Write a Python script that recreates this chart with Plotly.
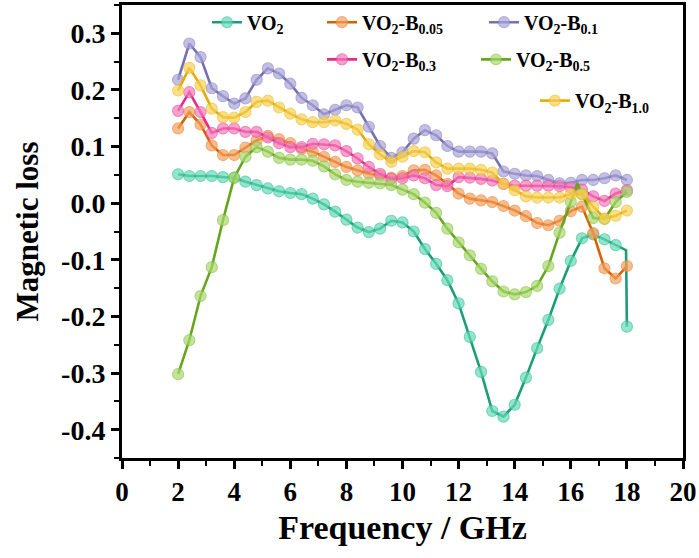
import plotly.graph_objects as go

# ---------------- data ----------------
freq = [2.0, 2.4, 2.8, 3.2, 3.6, 4.0, 4.4, 4.8, 5.2, 5.6,
        6.0, 6.4, 6.8, 7.2, 7.6, 8.0, 8.4, 8.8, 9.2, 9.6,
        10.0, 10.4, 10.8, 11.2, 11.6, 12.0, 12.4, 12.8, 13.2, 13.6,
        14.0, 14.4, 14.8, 15.2, 15.6, 16.0, 16.4, 16.8, 17.2, 17.6, 18.0]

vo2 = [0.051, 0.048, 0.048, 0.048, 0.046, 0.045, 0.038, 0.032, 0.026, 0.021,
       0.018, 0.016, 0.008, -0.002, -0.015, -0.029, -0.043, -0.051, -0.045, -0.031,
       -0.034, -0.050, -0.081, -0.107, -0.136, -0.177, -0.236, -0.298, -0.367, -0.377,
       -0.356, -0.308, -0.256, -0.206, -0.151, -0.102, -0.062, -0.055, -0.064, -0.074, -0.218]
# unmarked point just before the final drop of VO2
vo2_extra_x = [17.97]
vo2_extra_y = [-0.083]

vo2_b005 = [0.132, 0.161, 0.139, 0.102, 0.085, 0.085, 0.098, 0.111, 0.119, 0.113,
            0.106, 0.096, 0.091, 0.082, 0.073, 0.064, 0.058, 0.052, 0.049, 0.045,
            0.048, 0.058, 0.059, 0.049, 0.034, 0.017, 0.008, 0.005, 0.002, -0.005,
            -0.013, -0.023, -0.035, -0.039, -0.031, -0.014, -0.006, -0.053, -0.115, -0.133, -0.111]

vo2_b01 = [0.218, 0.282, 0.258, 0.203, 0.189, 0.176, 0.185, 0.218, 0.238, 0.229,
           0.211, 0.186, 0.173, 0.157, 0.165, 0.173, 0.169, 0.135, 0.101, 0.080,
           0.090, 0.114, 0.129, 0.120, 0.101, 0.091, 0.091, 0.091, 0.088, 0.056,
           0.052, 0.049, 0.048, 0.041, 0.035, 0.036, 0.041, 0.041, 0.044, 0.049, 0.041]

vo2_b03 = [0.163, 0.196, 0.161, 0.124, 0.132, 0.132, 0.126, 0.126, 0.116, 0.106,
           0.099, 0.099, 0.105, 0.104, 0.102, 0.092, 0.079, 0.064, 0.052, 0.043,
           0.044, 0.049, 0.044, 0.032, 0.030, 0.046, 0.045, 0.043, 0.040, 0.034,
           0.031, 0.031, 0.031, 0.031, 0.030, 0.028, 0.024, 0.012, 0.004, 0.017, 0.023]

vo2_b05 = [-0.302, -0.242, -0.164, -0.113, -0.030, 0.045, 0.082, 0.099, 0.091, 0.080,
           0.077, 0.077, 0.075, 0.065, 0.051, 0.041, 0.038, 0.036, 0.035, 0.032,
           0.024, 0.016, 0.001, -0.017, -0.045, -0.069, -0.092, -0.116, -0.138, -0.156,
           -0.161, -0.157, -0.146, -0.111, -0.052, 0.002, 0.016, -0.026, -0.028, 0.002, 0.020]
# unmarked sharp peak of VO2-B0.5
vo2_b05_extra_x = [16.24]
vo2_b05_extra_y = [0.035]

vo2_b10 = [0.199, 0.239, 0.208, 0.167, 0.152, 0.151, 0.161, 0.179, 0.181, 0.169,
           0.158, 0.148, 0.143, 0.143, 0.146, 0.140, 0.130, 0.104, 0.086, 0.073,
           0.082, 0.092, 0.090, 0.072, 0.061, 0.061, 0.061, 0.059, 0.054, 0.034,
           0.023, 0.012, 0.010, 0.010, 0.010, 0.016, 0.016, -0.006, -0.027, -0.022, -0.013]

names = ["VO<sub>2</sub>", "VO<sub>2</sub>-B<sub>0.05</sub>", "VO<sub>2</sub>-B<sub>0.1</sub>",
         "VO<sub>2</sub>-B<sub>0.3</sub>", "VO<sub>2</sub>-B<sub>0.5</sub>", "VO<sub>2</sub>-B<sub>1.0</sub>"]

x_ticks = [0, 2, 4, 6, 8, 10, 12, 14, 16, 18, 20]
y_ticks = [-0.4, -0.3, -0.2, -0.1, 0.0, 0.1, 0.2, 0.3]
y_ticklabels = ["-0.4", "-0.3", "-0.2", "-0.1", "0.0", "0.1", "0.2", "0.3"]

# ---------------- styling ----------------
line_colors = ["#1b9e77", "#d95f02", "#7570b3", "#e7298a", "#66a61e", "#e6ab02"]
fill_colors = ["#66dcb9", "#f5a35e", "#aaa6d8", "#f37dbb", "#aad970", "#f6d257"]
edge_colors = ["#3cc39c", "#ec8a3e", "#8f8ac6", "#ea56a2", "#8cc64a", "#efc030"]
legend_ids = ["legend", "legend2", "legend3", "legend4", "legend5", "legend6"]
# legend anchor positions (paper coords)
legend_x = [0.1515, 0.3565, 0.6453, 0.3565, 0.631, 0.736]
legend_y = [0.962, 0.962, 0.962, 0.880, 0.880, 0.789]

MS = 11


def merge(xs, ys, ex_x, ex_y):
    pts = [(x, y, MS) for x, y in zip(xs, ys)] + [(x, y, 0) for x, y in zip(ex_x, ex_y)]
    pts.sort(key=lambda p: p[0])
    return [p[0] for p in pts], [p[1] for p in pts], [p[2] for p in pts]


series = [
    merge(freq, vo2, vo2_extra_x, vo2_extra_y),
    merge(freq, vo2_b005, [], []),
    merge(freq, vo2_b01, [], []),
    merge(freq, vo2_b03, [], []),
    merge(freq, vo2_b05, vo2_b05_extra_x, vo2_b05_extra_y),
    merge(freq, vo2_b10, [], []),
]

fig = go.Figure()
for i, (xs, ys, sizes) in enumerate(series):
    fig.add_trace(go.Scatter(
        x=xs, y=ys, mode="lines+markers", name=names[i],
        line=dict(color=line_colors[i], width=2.6),
        marker=dict(symbol="circle", size=sizes, color=fill_colors[i],
                    line=dict(color=edge_colors[i], width=1.2)),
        legend=legend_ids[i], showlegend=True,
    ))

font_family = "Liberation Serif, Times New Roman, serif"
legend_font = dict(family=font_family, size=20, color="black", weight="bold")

legends = {}
for i, lid in enumerate(legend_ids):
    legends[lid] = dict(orientation="h", bgcolor="rgba(0,0,0,0)", borderwidth=0,
                        font=legend_font, xanchor="left", yanchor="middle",
                        x=legend_x[i], y=legend_y[i], visible=True)

fig.update_layout(
    width=699, height=558,
    showlegend=True,
    margin=dict(l=122, r=16, t=5, b=100, autoexpand=False),
    paper_bgcolor="white", plot_bgcolor="white",
    font=dict(family=font_family, color="black"),
    **legends,
    xaxis=dict(
        range=[0, 20], tickmode="array", tickvals=x_ticks,
        showgrid=False, zeroline=False,
        showline=True, linecolor="black", linewidth=3, mirror=True,
        ticks="outside", ticklen=8, tickwidth=2.5, tickcolor="black",
        minor=dict(dtick=1, ticks="outside", ticklen=5, tickwidth=2, tickcolor="black"),
        tickfont=dict(family=font_family, size=27, color="black", weight="bold"),
        title=dict(text="Frequency / GHz", standoff=9,
                   font=dict(family=font_family, size=34, color="black", weight="bold")),
    ),
    yaxis=dict(
        range=[-0.45, 0.35], tickmode="array", tickvals=y_ticks, ticktext=y_ticklabels,
        showgrid=False, zeroline=False,
        showline=True, linecolor="black", linewidth=3, mirror=True,
        ticks="outside", ticklen=8, tickwidth=2.5, tickcolor="black",
        ticklabelstandoff=0,
        minor=dict(dtick=0.05, tick0=0, ticks="outside", ticklen=5, tickwidth=2, tickcolor="black"),
        tickfont=dict(family=font_family, size=28, color="black", weight="bold"),
        title=dict(text="Magnetic loss", standoff=14,
                   font=dict(family=font_family, size=31, color="black", weight="bold")),
    ),
)

fig.write_html("out.html", config={"displayModeBar": False},
               post_script="document.body.style.margin='0';")
